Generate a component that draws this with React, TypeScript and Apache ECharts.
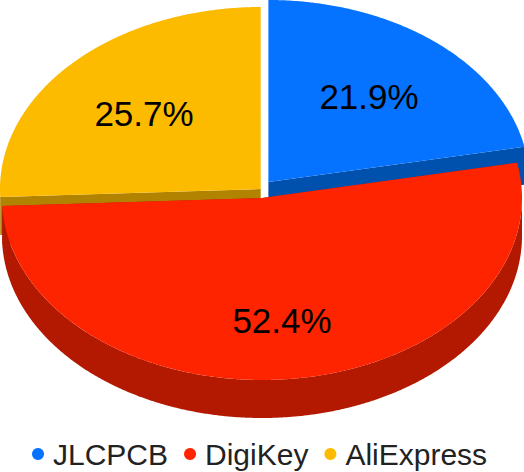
import React, { useEffect, useRef } from "react";
import * as echarts from "echarts";

const categories = ["JLCPCB", "DigiKey", "AliExpress"];
const shares = [21.9, 52.4, 25.7];
const topColors = ["#0573FF", "#FF2400", "#FDBB00"];
const wallColors = ["#0050AE", "#B31900", "#B18300"];

const DEPTH = 38;
const geometry = [
  { cx: 268.4, cy: 182, rx: 261, ry: 182, lx: 369, ly: 96 },
  { cx: 262, cy: 198, rx: 260, ry: 182, lx: 282, ly: 320 },
  { cx: 260.7, cy: 189, rx: 260.7, ry: 182, lx: 144, ly: 113 },
];

const total = shares.reduce((a, b) => a + b, 0);
const startAngles = shares.map((_, i) => (shares.slice(0, i).reduce((a, b) => a + b, 0) / total) * 360);

function arc(g: any, a0: number, a1: number, dy = 0): number[][] {
  const pts: number[][] = [];
  const n = Math.max(2, Math.ceil(Math.abs(a1 - a0) * 3));
  for (let k = 0; k <= n; k++) {
    const t = ((a0 + ((a1 - a0) * k) / n) * Math.PI) / 180;
    pts.push([g.cx + g.rx * Math.sin(t), g.cy - g.ry * Math.cos(t) + dy]);
  }
  return pts;
}

function sliceRenderer(i: number) {
  return (_params: any, api: any) => {
    const value = api.value(0) as number;
    const g = geometry[i];
    const a0 = startAngles[i];
    const a1 = a0 + (value / total) * 360;
    const children: any[] = [];
    const wall = { fill: wallColors[i] };
    const w0 = Math.max(a0, 90);
    const w1 = Math.min(a1, 270);
    if (w1 > w0) {
      children.push({
        type: "polygon",
        shape: { points: [...arc(g, w0, w1), ...arc(g, w0, w1, DEPTH).reverse()] },
        style: wall,
      });
    }
    const apex = [g.cx, g.cy];
    for (const a of [a0, a1]) {
      const e = arc(g, a, a, 0)[0];
      children.push({
        type: "polygon",
        shape: { points: [apex, e, [e[0], e[1] + DEPTH], [apex[0], apex[1] + DEPTH]] },
        style: wall,
      });
    }
    children.push({
      type: "polygon",
      shape: { points: [apex, ...arc(g, a0, a1)] },
      style: { fill: topColors[i] },
    });
    children.push({
      type: "text",
      x: g.lx,
      y: g.ly,
      style: {
        text: `${value.toFixed(1)}%`,
        fill: "#000",
        font: '35px "Liberation Sans", Arial, sans-serif',
        align: "center",
        verticalAlign: "middle",
      },
    });
    return { type: "group", children };
  };
}

// Blue and yellow lie behind the red slice, which is drawn last.
const drawOrder = [0, 2, 1];

export default function App() {
  const ref = useRef<HTMLDivElement>(null);
  useEffect(() => {
    document.body.style.margin = "0";
    const chart = echarts.init(ref.current!, undefined, { renderer: "svg" });
    chart.setOption({
      animation: false,
      backgroundColor: "#fff",
      legend: {
        data: categories,
        left: 32,
        top: 439,
        padding: 0,
        icon: "circle",
        itemWidth: 12,
        itemHeight: 12,
        itemGap: 16,
        textStyle: {
          color: "#222",
          fontSize: 30,
          fontFamily: '"Liberation Sans", Arial, sans-serif',
          padding: [0, 0, 0, 4],
        },
      },
      series: drawOrder.map((i) => ({
        type: "custom",
        name: categories[i],
        coordinateSystem: "none",
        z: 2 + drawOrder.indexOf(i),
        itemStyle: { color: topColors[i] },
        data: [[shares[i]]],
        renderItem: sliceRenderer(i),
      })),
    });
    return () => chart.dispose();
  }, []);
  return <div ref={ref} style={{ width: 524, height: 472 }} />;
}
